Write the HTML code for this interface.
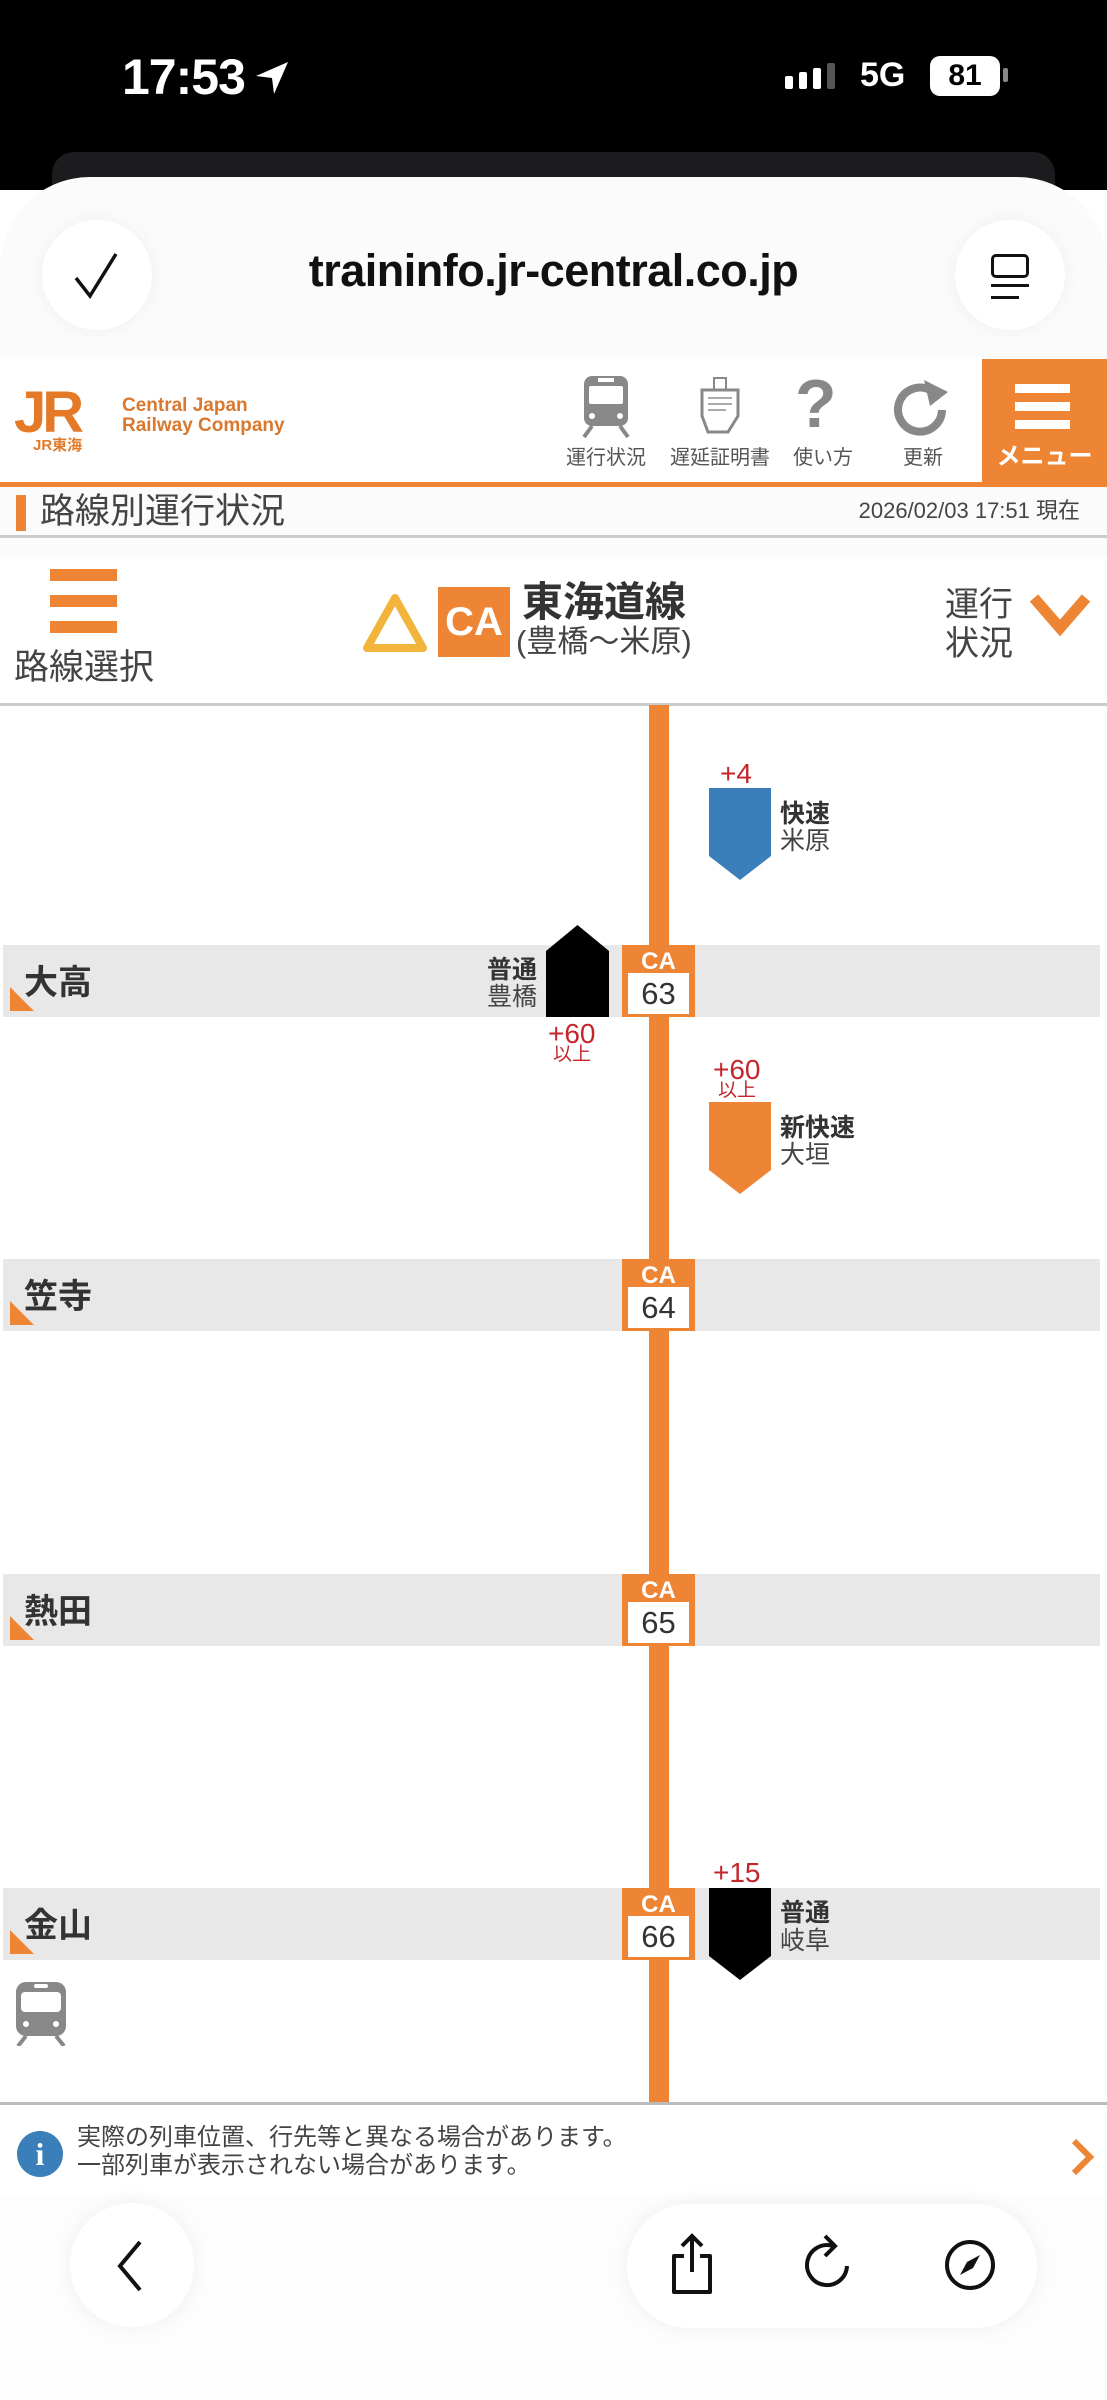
<!DOCTYPE html>
<html><head><meta charset="utf-8">
<style>
*{margin:0;padding:0;box-sizing:border-box}
body{width:1107px;height:2400px;position:relative;overflow:hidden;background:#fff;font-family:"Liberation Sans","Noto Sans CJK JP",sans-serif}
.a{position:absolute}
.t{position:absolute;white-space:nowrap;line-height:1}
.band{position:absolute;left:3px;width:1097px;height:72px;background:#e8e8e8}
.sname{position:absolute;left:24px;font-size:34px;font-weight:bold;color:#333;line-height:1}
.corner{position:absolute;left:10px;width:0;height:0;border-left:24px solid #ee8535;border-top:24px solid transparent}
.st{position:absolute;left:622px;width:73px;height:72px;background:#ee8535}
.st .ca{position:absolute;top:5px;left:0;width:73px;text-align:center;color:#fff;font-weight:bold;font-size:24px;line-height:1}
.st .num{position:absolute;left:6px;top:28px;width:61px;height:41px;background:#fff;text-align:center;font-size:31px;color:#333;line-height:41px}
.red{color:#c4262b}
</style></head><body>
<!-- status bar -->
<div class="a" style="left:0;top:0;width:1107px;height:190px;background:#000"></div>
<div class="a" style="left:52px;top:152px;width:1003px;height:60px;background:#1c1c1e;border-radius:22px"></div>
<div class="t" style="left:122px;top:52px;color:#fff;font-size:50px;font-weight:bold;letter-spacing:-1px">17:53</div>
<svg class="a" style="left:252px;top:58px" width="40" height="40" viewBox="0 0 40 40"><path d="M36 4 L4 18 L20 20 L22 36 Z" fill="#fff"/></svg>
<div class="a" style="left:785px;top:63px;width:70px;height:26px">
 <div class="a" style="left:0;top:13px;width:8px;height:13px;background:#fff;border-radius:2px"></div>
 <div class="a" style="left:14px;top:9px;width:8px;height:17px;background:#fff;border-radius:2px"></div>
 <div class="a" style="left:28px;top:5px;width:8px;height:21px;background:#fff;border-radius:2px"></div>
 <div class="a" style="left:42px;top:0;width:8px;height:26px;background:#555;border-radius:2px"></div>
</div>
<div class="t" style="left:860px;top:58px;color:#fff;font-size:34px;font-weight:bold">5G</div>
<div class="a" style="left:930px;top:56px;width:70px;height:40px;background:#fff;border-radius:10px;color:#000;font-weight:bold;font-size:30px;text-align:center;line-height:40px">81</div>
<div class="a" style="left:1003px;top:68px;width:5px;height:14px;background:#888;border-radius:2px"></div>
<!-- browser top -->
<div class="a" style="left:0;top:177px;width:1107px;height:380px;background:#fbfbfb;border-radius:90px 90px 0 0"></div>
<div class="a" style="left:42px;top:220px;width:110px;height:110px;border-radius:55px;background:#fff;box-shadow:0 0 20px rgba(0,0,0,.05)"></div>
<svg class="a" style="left:72px;top:250px" width="50" height="50" viewBox="0 0 50 50"><path d="M4 28 L18 46 L44 4" fill="none" stroke="#111" stroke-width="3.5"/></svg>
<div class="t" style="left:290px;top:248px;width:527px;text-align:center;font-size:45px;color:#111;font-weight:bold;letter-spacing:-0.5px">traininfo.jr-central.co.jp</div>
<div class="a" style="left:955px;top:220px;width:110px;height:110px;border-radius:55px;background:#fff;box-shadow:0 0 20px rgba(0,0,0,.05)"></div>
<div class="a" style="left:991px;top:254px;width:38px;height:24px;border:3px solid #111;border-radius:5px"></div>
<div class="a" style="left:991px;top:284px;width:38px;height:3px;background:#111"></div>
<div class="a" style="left:991px;top:296px;width:28px;height:3px;background:#111"></div>
<!-- header -->
<div class="a" style="left:0;top:357px;width:1107px;height:125px;background:#fff"></div>
<div class="t" style="left:14px;top:384px;font-size:58px;font-weight:bold;color:#e47a28;letter-spacing:-4px">JR</div>
<div class="t" style="left:33px;top:438px;font-size:15px;font-weight:bold;color:#e47a28">JR東海</div>
<div class="t" style="left:122px;top:396px;font-size:19px;font-weight:bold;color:#d9782e">Central Japan</div>
<div class="t" style="left:122px;top:416px;font-size:19px;font-weight:bold;color:#d9782e">Railway Company</div>
<!-- icons -->
<svg class="a" style="left:580px;top:374px" width="52" height="64" viewBox="0 0 52 64"><rect x="4" y="2" width="44" height="50" rx="8" fill="#888"/><rect x="9" y="12" width="34" height="18" rx="2" fill="#fff"/><rect x="18" y="4" width="16" height="4" fill="#fff"/><circle cx="12" cy="42" r="3" fill="#fff"/><circle cx="40" cy="42" r="3" fill="#fff"/><path d="M12 52 L4 63 M40 52 L48 63" stroke="#888" stroke-width="4"/></svg>
<svg class="a" style="left:698px;top:376px" width="46" height="60" viewBox="0 0 46 60"><rect x="16" y="2" width="12" height="12" fill="none" stroke="#888" stroke-width="2"/><path d="M4 14 H40 V40 L30 56 H10 L4 40 Z" fill="#fff" stroke="#888" stroke-width="3"/><path d="M10 22 H34 M10 28 H34 M10 34 H28" stroke="#aaa" stroke-width="2"/></svg>
<div class="t" style="left:795px;top:370px;font-size:68px;font-weight:bold;color:#888">?</div>
<svg class="a" style="left:890px;top:380px" width="70" height="60" viewBox="0 0 70 60"><path d="M52 30 A22 22 0 1 1 40 10" fill="none" stroke="#888" stroke-width="8"/><path d="M34 0 L58 12 L40 26 Z" fill="#888"/></svg>
<div class="t" style="left:566px;top:448px;font-size:20px;color:#555">運行状況</div>
<div class="t" style="left:670px;top:448px;font-size:20px;color:#555">遅延証明書</div>
<div class="t" style="left:793px;top:448px;font-size:20px;color:#555">使い方</div>
<div class="t" style="left:903px;top:448px;font-size:20px;color:#555">更新</div>
<div class="a" style="left:982px;top:359px;width:125px;height:124px;background:#ee8535"></div>
<div class="a" style="left:1015px;top:384px;width:55px;height:9px;background:#fff"></div>
<div class="a" style="left:1015px;top:402px;width:55px;height:9px;background:#fff"></div>
<div class="a" style="left:1015px;top:420px;width:55px;height:9px;background:#fff"></div>
<div class="t" style="left:982px;top:445px;width:125px;text-align:center;font-size:24px;font-weight:bold;color:#fff">メニュー</div>
<div class="a" style="left:0;top:482px;width:1107px;height:5px;background:#ee8535"></div>
<!-- title bar -->
<div class="a" style="left:16px;top:495px;width:10px;height:36px;background:#ee8535"></div>
<div class="t" style="left:40px;top:494px;font-size:35px;color:#444">路線別運行状況</div>
<div class="t" style="left:700px;top:500px;width:380px;text-align:right;font-size:22px;color:#444">2026/02/03 17:51 現在</div>
<div class="a" style="left:0;top:535px;width:1107px;height:3px;background:#ccc"></div>
<!-- selector -->
<div class="a" style="left:50px;top:569px;width:67px;height:12px;background:#ee8535"></div>
<div class="a" style="left:50px;top:595px;width:67px;height:12px;background:#ee8535"></div>
<div class="a" style="left:50px;top:621px;width:67px;height:12px;background:#ee8535"></div>
<div class="t" style="left:14px;top:650px;font-size:35px;color:#444">路線選択</div>
<svg class="a" style="left:362px;top:592px" width="66" height="62" viewBox="0 0 66 62"><path d="M33 6 L61 56 H5 Z" fill="none" stroke="#f2b43a" stroke-width="8" stroke-linejoin="round"/></svg>
<div class="a" style="left:438px;top:587px;width:72px;height:70px;background:#ee8535;color:#fff;font-weight:bold;font-size:40px;text-align:center;line-height:70px">CA</div>
<div class="t" style="left:522px;top:582px;font-size:41px;font-weight:bold;color:#333">東海道線</div>
<div class="t" style="left:516px;top:626px;font-size:31px;color:#444">(豊橋〜米原)</div>
<div class="t" style="left:945px;top:588px;font-size:34px;color:#444">運行</div>
<div class="t" style="left:945px;top:627px;font-size:34px;color:#444">状況</div>
<svg class="a" style="left:1028px;top:592px" width="64" height="46" viewBox="0 0 64 46"><path d="M6 6 L32 36 L58 6" fill="none" stroke="#ee8535" stroke-width="11"/></svg>
<div class="a" style="left:0;top:703px;width:1107px;height:3px;background:#ccc"></div>
<!-- route -->
<div class="a" style="left:649px;top:705px;width:20px;height:1398px;background:#ee8535"></div>
<!-- bands -->
<div class="band" style="top:945px"></div><div class="corner" style="top:987px"></div><div class="sname" style="top:966px">大高</div>
<div class="st" style="top:945px"><div class="ca">CA</div><div class="num">63</div></div>
<div class="band" style="top:1259px"></div><div class="corner" style="top:1301px"></div><div class="sname" style="top:1280px">笠寺</div>
<div class="st" style="top:1259px"><div class="ca">CA</div><div class="num">64</div></div>
<div class="band" style="top:1574px"></div><div class="corner" style="top:1616px"></div><div class="sname" style="top:1595px">熱田</div>
<div class="st" style="top:1574px"><div class="ca">CA</div><div class="num">65</div></div>
<div class="band" style="top:1888px"></div><div class="corner" style="top:1930px"></div><div class="sname" style="top:1909px">金山</div>
<div class="st" style="top:1888px"><div class="ca">CA</div><div class="num">66</div></div>
<!-- trains -->
<div class="t red" style="left:720px;top:760px;font-size:28px">+4</div>
<svg class="a" style="left:709px;top:788px" width="62" height="92"><path d="M0 0 H62 V68 L31 92 L0 68 Z" fill="#3a7fb9"/></svg>
<div class="t" style="left:780px;top:802px;font-size:25px;font-weight:bold;color:#333">快速</div>
<div class="t" style="left:780px;top:829px;font-size:25px;color:#444">米原</div>

<svg class="a" style="left:546px;top:925px" width="63" height="92"><path d="M31.5 0 L63 26 V92 H0 V26 Z" fill="#000"/></svg>
<div class="t" style="left:487px;top:958px;font-size:25px;font-weight:bold;color:#333">普通</div>
<div class="t" style="left:487px;top:985px;font-size:25px;color:#444">豊橋</div>
<div class="t red" style="left:548px;top:1020px;font-size:28px">+60</div>
<div class="t red" style="left:553px;top:1045px;font-size:19px">以上</div>

<div class="t red" style="left:713px;top:1056px;font-size:28px">+60</div>
<div class="t red" style="left:718px;top:1081px;font-size:19px">以上</div>
<svg class="a" style="left:709px;top:1102px" width="62" height="92"><path d="M0 0 H62 V68 L31 92 L0 68 Z" fill="#ee8535"/></svg>
<div class="t" style="left:780px;top:1116px;font-size:25px;font-weight:bold;color:#333">新快速</div>
<div class="t" style="left:780px;top:1143px;font-size:25px;color:#444">大垣</div>

<div class="t red" style="left:713px;top:1859px;font-size:28px">+15</div>
<svg class="a" style="left:709px;top:1888px" width="62" height="92"><path d="M0 0 H62 V68 L31 92 L0 68 Z" fill="#000"/></svg>
<div class="t" style="left:780px;top:1901px;font-size:25px;font-weight:bold;color:#333">普通</div>
<div class="t" style="left:780px;top:1929px;font-size:25px;color:#444">岐阜</div>

<svg class="a" style="left:14px;top:1980px" width="56" height="66" viewBox="0 0 56 66"><rect x="2" y="2" width="50" height="54" rx="10" fill="#888"/><rect x="7" y="12" width="40" height="20" rx="4" fill="#fff"/><rect x="20" y="4" width="14" height="4" rx="2" fill="#fff"/><circle cx="12" cy="44" r="3" fill="#fff"/><circle cx="42" cy="44" r="3" fill="#fff"/><path d="M12 56 L4 66 M42 56 L50 66" stroke="#888" stroke-width="4"/></svg>
<div class="a" style="left:0;top:2102px;width:1107px;height:3px;background:#bbb"></div>
<!-- info -->
<div class="a" style="left:17px;top:2131px;width:46px;height:46px;border-radius:23px;background:#3a7fb9;color:#fff;font-weight:bold;font-size:32px;text-align:center;line-height:46px;font-family:'Liberation Serif',serif">i</div>
<div class="t" style="left:77px;top:2126px;font-size:24px;color:#444">実際の列車位置、行先等と異なる場合があります。</div>
<div class="t" style="left:77px;top:2154px;font-size:24px;color:#444">一部列車が表示されない場合があります。</div>
<svg class="a" style="left:1068px;top:2137px" width="28" height="40" viewBox="0 0 28 40"><path d="M6 4 L22 20 L6 36" fill="none" stroke="#ee8535" stroke-width="6"/></svg>
<!-- bottom bar -->
<div class="a" style="left:0;top:2195px;width:1107px;height:205px;background:#fdfdfd"></div>
<div class="a" style="left:70px;top:2203px;width:124px;height:124px;border-radius:62px;background:#fff;box-shadow:0 0 20px rgba(0,0,0,.06)"></div>
<svg class="a" style="left:110px;top:2238px" width="40" height="56" viewBox="0 0 40 56"><path d="M30 4 L10 28 L30 52" fill="none" stroke="#111" stroke-width="4"/></svg>
<div class="a" style="left:627px;top:2204px;width:410px;height:124px;border-radius:62px;background:#fff;box-shadow:0 0 20px rgba(0,0,0,.06)"></div>
<svg class="a" style="left:666px;top:2232px" width="52" height="64" viewBox="0 0 52 64"><path d="M18 24 H8 V60 H44 V24 H34" fill="none" stroke="#111" stroke-width="4" stroke-linejoin="round"/><path d="M26 40 V4 M16 14 L26 4 L36 14" fill="none" stroke="#111" stroke-width="4"/></svg>
<svg class="a" style="left:803px;top:2232px" width="52" height="64" viewBox="0 0 52 64"><path d="M30 14 A20 20 0 1 0 44 34" fill="none" stroke="#111" stroke-width="4"/><path d="M22 4 L32 14 L22 24" fill="none" stroke="#111" stroke-width="4"/></svg>
<svg class="a" style="left:944px;top:2239px" width="52" height="52" viewBox="0 0 52 52"><circle cx="26" cy="26" r="23" fill="none" stroke="#111" stroke-width="4"/><path d="M36 16 L29 29 L16 36 L23 23 Z" fill="#111"/></svg>
</body></html>
